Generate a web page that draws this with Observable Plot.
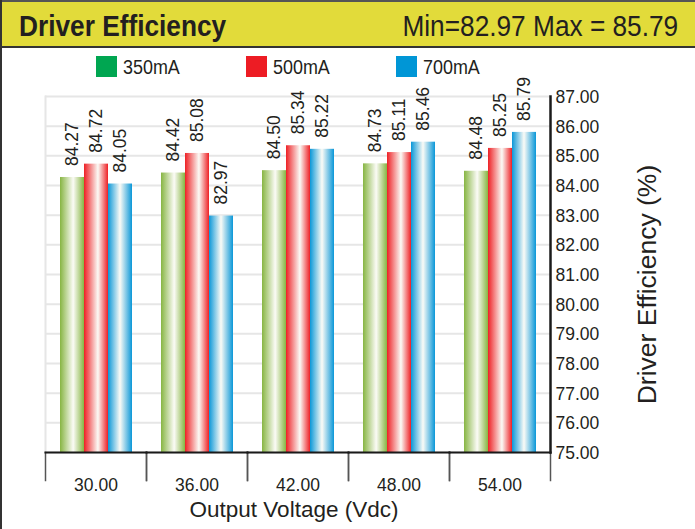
<!DOCTYPE html>
<html>
<head>
<meta charset="utf-8">
<script src="https://cdn.jsdelivr.net/npm/d3@7"></script>
<script src="https://cdn.jsdelivr.net/npm/@observablehq/plot@0.6"></script>
<style>
  body { margin: 0; background: #fff; }
  #wrap { position: relative; width: 695px; height: 529px; overflow: hidden; background: #fff;
          font-family: "Liberation Sans", Arial, sans-serif; color: #231f20; }
  #chart { position: absolute; left: 0; top: 0; }
  .abs { position: absolute; }
  #topline { left: 0; top: 0; width: 695px; height: 2px; background: #555; }
  #leftline { left: 0; top: 0; width: 2px; height: 529px; background: #333; }
  #header { left: 0; top: 2px; width: 695px; height: 44px; background: #e2db3a; border-bottom: 2px solid #333; }
  .htext { position: absolute; top: 10.6px; font-size: 30px; line-height: 30px; white-space: nowrap; }
  #title { left: 19px; font-weight: bold; transform: scaleX(0.875); transform-origin: left top; }
  #minmax { right: 17px; transform: scaleX(0.875); transform-origin: right top; }
  .sw { position: absolute; top: 56px; width: 21px; height: 21px; }
  .lt { position: absolute; top: 56.6px; font-size: 20.5px; line-height: 20.5px; white-space: nowrap;
        transform: scaleX(0.875); transform-origin: left top; }
</style>
</head>
<body>
<div id="wrap">
  <div id="chart"></div>
  <div id="header" class="abs">
  </div>
  <div id="title" class="htext"></div>
  <div id="minmax" class="htext"></div>
  <div id="topline" class="abs"></div>
  <div id="leftline" class="abs"></div>
  <div id="legend"></div>
</div>
<script>
// ---- data ----
const voltages = ["30.00", "36.00", "42.00", "48.00", "54.00"];
const currents = ["350mA", "500mA", "700mA"];
const eff350 = [84.27, 84.42, 84.50, 84.73, 84.48];
const eff500 = [84.72, 85.08, 85.34, 85.11, 85.25];
const eff700 = [84.05, 82.97, 85.22, 85.46, 85.79];
const yTicks = [75, 76, 77, 78, 79, 80, 81, 82, 83, 84, 85, 86, 87];
const titleText = "Driver Efficiency";
const xTitle = "Output Voltage (Vdc)";
const yTitle = "Driver Efficiency (%)";

const series = [eff350, eff500, eff700];
const data = voltages.flatMap((v, i) =>
  currents.map((c, j) => ({voltage: v, current: c, value: series[j][i]}))
);
const all = series.flat();
const minV = d3.min(all), maxV = d3.max(all);

// ---- header & legend ----
document.getElementById("title").textContent = titleText;
document.getElementById("minmax").textContent = `Min=${minV.toFixed(2)} Max = ${maxV.toFixed(2)}`;

const legendColors = ["#00a651", "#ed1c24", "#0096d6"];
const legendX = [96, 246, 395.5];
const legend = document.getElementById("legend");
currents.forEach((c, i) => {
  const sw = document.createElement("div");
  sw.className = "sw";
  sw.style.left = legendX[i] + "px";
  sw.style.background = legendColors[i];
  legend.appendChild(sw);
  const t = document.createElement("div");
  t.className = "lt";
  t.style.left = (legendX[i] + 27) + "px";
  t.textContent = c;
  legend.appendChild(t);
});

// ---- chart ----
const font = "Liberation Sans, Arial, sans-serif";
const chart = Plot.plot({
  width: 695,
  height: 529,
  marginTop: 96,
  marginBottom: 77,
  marginLeft: 43,
  marginRight: 144,
  style: {fontFamily: font, color: "#231f20", background: "transparent", overflow: "visible"},
  fx: {domain: voltages, padding: 0, label: null},
  x: {domain: currents, paddingInner: 0, paddingOuter: 0.57, axis: null},
  y: {domain: [75, 87], label: null},
  color: {domain: currents, range: ["url(#g350)", "url(#g500)", "url(#g700)"]},
  marks: [
    Plot.gridY(yTicks, {stroke: "#e6e6e6", strokeOpacity: 1, strokeWidth: 2}),
    Plot.frame({facet: "super", anchor: "left", stroke: "#e6e6e6", strokeWidth: 2}),
    Plot.barY(data, {fx: "voltage", x: "current", y1: 75, y2: "value", fill: "current"}),
    Plot.text(data, {
      fx: "voltage", x: "current", y: "value",
      text: d => d.value.toFixed(2),
      rotate: -90, textAnchor: "start", lineAnchor: "middle",
      dy: -11.5, fontSize: 17.5, fill: "#231f20"
    }),
    Plot.frame({anchor: "left", insetTop: 356, insetBottom: -28, stroke: "#555", strokeWidth: 1.5}),
    Plot.frame({anchor: "right", insetTop: 356, insetBottom: -28, stroke: "#555", strokeWidth: 1.5}),
    Plot.frame({anchor: "bottom", stroke: "#1a1a1a", strokeWidth: 2}),
    Plot.frame({facet: "super", anchor: "right", stroke: "#1a1a1a", strokeWidth: 2.5}),
    Plot.axisY(yTicks, {
      anchor: "right", tickSize: 0, tickPadding: 5, dy: 1,
      tickFormat: d => d.toFixed(2), fontSize: 17.5, label: null, fill: "#231f20"
    }),
    Plot.axisFx({anchor: "bottom", tickSize: 0, tickPadding: 26, fontSize: 17.5, label: null, fill: "#231f20"}),
    Plot.text([yTitle], {
      facet: "super", frameAnchor: "right", text: d => d,
      dx: 97, dy: 10, rotate: -90, fontSize: 26.5,
      textAnchor: "middle", lineAnchor: "middle", fill: "#231f20"
    }),
    Plot.text([xTitle], {
      facet: "super", frameAnchor: "bottom", text: d => d,
      dx: -4, dy: 57, fontSize: 22.5,
      textAnchor: "middle", lineAnchor: "middle", fill: "#231f20"
    })
  ]
});

// gradients for the bars
const ns = "http://www.w3.org/2000/svg";
const defs = document.createElementNS(ns, "defs");
const grads = [
  {id: "g350", c: "#87b543", mid: 0.55},
  {id: "g500", c: "#ee2025", mid: 0.58},
  {id: "g700", c: "#0a97d8", mid: 0.5}
];
grads.forEach(g => {
  const lg = document.createElementNS(ns, "linearGradient");
  lg.setAttribute("id", g.id);
  lg.setAttribute("x1", "0"); lg.setAttribute("x2", "1");
  lg.setAttribute("y1", "0"); lg.setAttribute("y2", "0");
  [[0, g.c], [g.mid, "#fbfbf6"], [1, g.c]].forEach(([o, col]) => {
    const s = document.createElementNS(ns, "stop");
    s.setAttribute("offset", o);
    s.setAttribute("stop-color", col);
    lg.appendChild(s);
  });
  defs.appendChild(lg);
});
chart.insertBefore(defs, chart.firstChild);

document.getElementById("chart").appendChild(chart);
</script>
</body>
</html>
